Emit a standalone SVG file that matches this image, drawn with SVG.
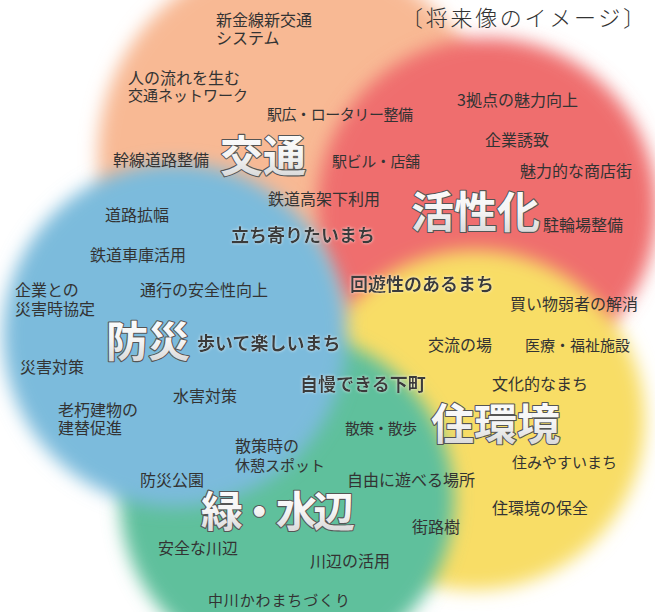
<svg xmlns="http://www.w3.org/2000/svg" width="655" height="612" viewBox="0 0 655 612">
<defs>
<filter id="soft" x="-30%" y="-30%" width="160%" height="160%"><feGaussianBlur stdDeviation="9"/></filter>
<filter id="glow" x="-10%" y="-30%" width="120%" height="160%"><feGaussianBlur in="SourceAlpha" stdDeviation="1.5" result="b"/><feFlood flood-color="#ffffff" flood-opacity="0.7"/><feComposite in2="b" operator="in" result="g"/><feMerge><feMergeNode in="g"/><feMergeNode in="SourceGraphic"/></feMerge></filter>
<linearGradient id="bigfill" x1="0" y1="0" x2="0" y2="1"><stop offset="0" stop-color="#ffffff"/><stop offset="0.55" stop-color="#f4f4f4"/><stop offset="1" stop-color="#cfcfcf"/></linearGradient>
</defs>
<style>
text{font-family:"Noto Sans CJK JP","Noto Sans",sans-serif;fill:#333;}
.s{font-size:16px;}
.s15{font-size:15px;}
.m{font-size:18px;font-weight:bold;fill:#3a3a3a;}
.big{font-weight:bold;fill:url(#bigfill);stroke:#555;stroke-width:2.2px;paint-order:stroke;stroke-linejoin:round;}
.title{font-size:22px;font-weight:300;fill:#333;}
</style>
<rect width="655" height="612" fill="#ffffff"/>
<g id="circles">
<circle id="c-kotsu" cx="298" cy="155" r="200" fill="#f8b994" filter="url(#soft)"/>
<circle id="c-kasseika" cx="487" cy="208" r="170" fill="#ef6e6e" filter="url(#soft)"/>
<circle id="c-jukankyo" cx="475" cy="420" r="170" fill="#f8dd66" filter="url(#soft)"/>
<circle id="c-midori" cx="287" cy="500" r="167" fill="#5ec09c" filter="url(#soft)"/>
<circle id="c-bosai" cx="175" cy="335" r="172" fill="#7cbbdc" filter="url(#soft)"/>
</g>
<text class="title" x="401" y="26" textLength="244" lengthAdjust="spacing">〔将来像のイメージ〕</text>
<g id="kotsu">
<text class="big" x="220" y="172" font-size="43">交通</text>
<text class="s" x="216" y="26"><tspan x="216">新金線新交通</tspan><tspan x="216" dy="18">システム</tspan></text>
<text class="s" x="128" y="84"><tspan x="128">人の流れを生む</tspan><tspan x="128" dy="17" font-size="15">交通ネットワーク</tspan></text>
<text class="s15" x="267" y="120" textLength="146" lengthAdjust="spacing">駅広・ロータリー整備</text>
<text class="s" x="113" y="166">幹線道路整備</text>
<text class="s" x="268" y="205">鉄道高架下利用</text>
</g>
<g id="kasseika">
<text class="big" x="411" y="228" font-size="43">活性化</text>
<text class="s" x="457" y="106">3拠点の魅力向上</text>
<text class="s" x="485" y="146">企業誘致</text>
<text class="s15" x="332" y="167" textLength="88" lengthAdjust="spacing">駅ビル・店舗</text>
<text class="s" x="520" y="177">魅力的な商店街</text>
<text class="s" x="543" y="231">駐輪場整備</text>
</g>
<g id="bosai">
<text class="big" x="106" y="357" font-size="42">防災</text>
<text class="s" x="105" y="221">道路拡幅</text>
<text class="s" x="90" y="261">鉄道車庫活用</text>
<text class="s" x="15" y="296"><tspan x="15">企業との</tspan><tspan x="15" dy="19">災害時協定</tspan></text>
<text class="s" x="140" y="296">通行の安全性向上</text>
<text class="s" x="20" y="373">災害対策</text>
<text class="s" x="173" y="402">水害対策</text>
<text class="s" x="58" y="416"><tspan x="58">老朽建物の</tspan><tspan x="58" dy="18">建替促進</tspan></text>
<text class="s" x="140" y="486">防災公園</text>
</g>
<g id="jukankyo">
<text class="big" x="431" y="440" font-size="43">住環境</text>
<text class="s" x="510" y="310">買い物弱者の解消</text>
<text class="s" x="428" y="351">交流の場</text>
<text class="s15" x="525" y="351" textLength="105" lengthAdjust="spacing">医療・福祉施設</text>
<text class="s" x="492" y="390">文化的なまち</text>
<text class="s15" x="345" y="434" textLength="72" lengthAdjust="spacing">散策・散歩</text>
<text class="s15" x="512" y="468">住みやすいまち</text>
<text class="s" x="347" y="486">自由に遊べる場所</text>
<text class="s" x="492" y="514">住環境の保全</text>
<text class="s" x="412" y="533">街路樹</text>
</g>
<g id="midori">
<text class="big" x="201" y="527" font-size="42" textLength="154" lengthAdjust="spacing">緑・水辺</text>
<text class="s" x="235" y="452"><tspan x="235">散策時の</tspan><tspan x="235" dy="19" font-size="15">休憩スポット</tspan></text>
<text class="s" x="158" y="554">安全な川辺</text>
<text class="s" x="310" y="567">川辺の活用</text>
<text class="s15" x="208" y="606" textLength="142" lengthAdjust="spacing">中川かわまちづくり</text>
</g>
<g id="themes">
<text class="m" x="231" y="242" filter="url(#glow)">立ち寄りたいまち</text>
<text class="m" x="350" y="291" filter="url(#glow)">回遊性のあるまち</text>
<text class="m" x="197" y="350" filter="url(#glow)">歩いて楽しいまち</text>
<text class="m" x="300" y="391" filter="url(#glow)">自慢できる下町</text>
</g>
</svg>
